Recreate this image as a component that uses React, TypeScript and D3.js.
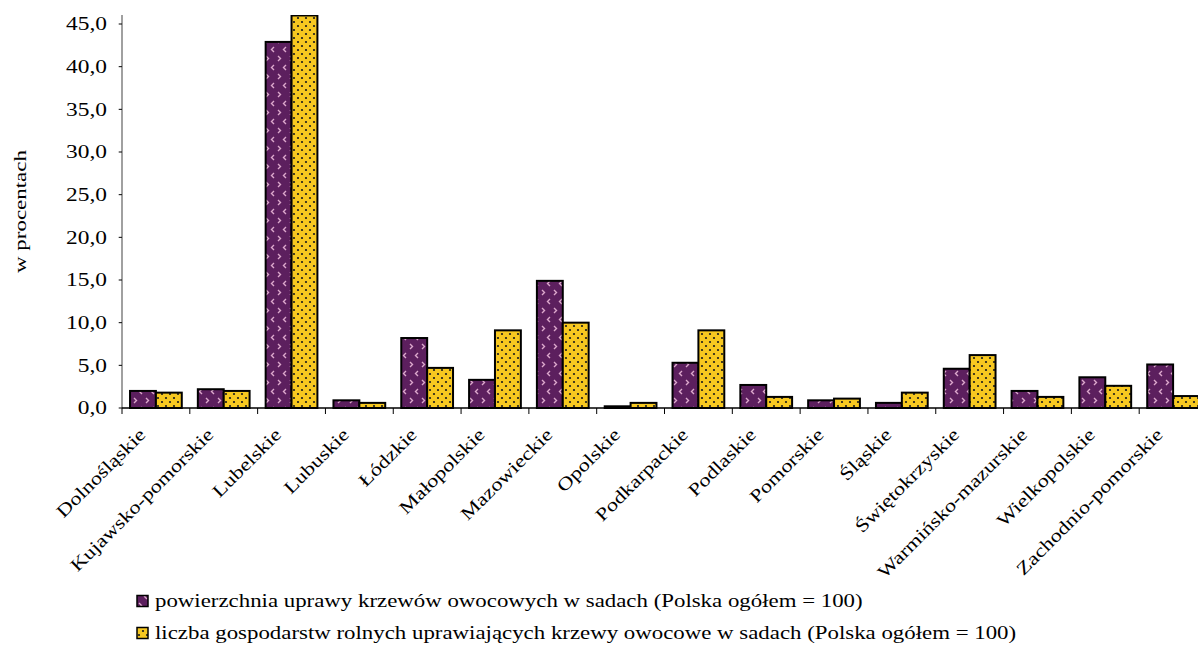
import React from 'react';
import * as d3 from 'd3';

const regions = [
  'Dolnośląskie',
  'Kujawsko-pomorskie',
  'Lubelskie',
  'Lubuskie',
  'Łódzkie',
  'Małopolskie',
  'Mazowieckie',
  'Opolskie',
  'Podkarpackie',
  'Podlaskie',
  'Pomorskie',
  'Śląskie',
  'Świętokrzyskie',
  'Warmińsko-mazurskie',
  'Wielkopolskie',
  'Zachodnio-pomorskie',
];

const area = [2.0, 2.2, 42.9, 0.9, 8.2, 3.3, 14.9, 0.2, 5.3, 2.7, 0.9, 0.6, 4.6, 2.0, 3.6, 5.1];
const farms = [1.8, 2.0, 46.0, 0.6, 4.7, 9.1, 10.0, 0.6, 9.1, 1.3, 1.1, 1.8, 6.2, 1.3, 2.6, 1.4];

const yTicks = [0, 5, 10, 15, 20, 25, 30, 35, 40, 45];

const seriesNames = [
  'powierzchnia uprawy krzewów owocowych w sadach (Polska ogółem = 100)',
  'liczba gospodarstw rolnych uprawiających krzewy owocowe w sadach (Polska ogółem = 100)',
];

const W = 1198;
const H = 646;
const font = '"Liberation Serif", "Times New Roman", serif';

const App: React.FC = () => {
  const x = d3.scaleBand<string>().domain(regions).range([122, 1207]);
  const inner = d3.scaleBand<string>().domain(['a', 'b']).range([0, x.bandwidth()]).paddingOuter(0.31);
  const y = d3.scaleLinear().domain([0, 45]).range([408, 24]);
  const yTop = y(46.05);
  const fmt = (v: number) => v.toFixed(1).replace('.', ',');

  const series = [
    { key: 'a', values: area, fill: 'url(#patPurple)' },
    { key: 'b', values: farms, fill: 'url(#patYellow)' },
  ];

  return (
    <svg width={W} height={H} style={{ position: 'absolute', left: 0, top: 0, background: '#fff' }}>
      <defs>
        <pattern id="patPurple" patternUnits="userSpaceOnUse" width="12" height="18">
          <rect width="12" height="18" fill="#5c1f5e" />
          <path d="M2 2 L4.5 4.5 L2 7" stroke="#dca8cc" strokeWidth="1.4" fill="none" />
          <path d="M10 11 L7.5 13.5 L10 16" stroke="#dca8cc" strokeWidth="1.4" fill="none" />
        </pattern>
        <pattern id="patYellow" patternUnits="userSpaceOnUse" width="8" height="8">
          <rect width="8" height="8" fill="#f7c820" />
          <circle cx="2" cy="2" r="1.1" fill="#1a1a1a" />
          <circle cx="6" cy="6" r="1.1" fill="#1a1a1a" />
        </pattern>
        <clipPath id="plotClip">
          <rect x={0} y={yTop} width={W + 20} height={H} />
        </clipPath>
      </defs>

      {/* bars */}
      <g clipPath="url(#plotClip)">
        {series.map((s) =>
          s.values.map((v, i) => {
            const bx = (x(regions[i]) ?? 0) + (inner(s.key) ?? 0);
            const by = y(v);
            return (
              <rect
                key={s.key + i}
                x={bx}
                y={by}
                width={inner.bandwidth()}
                height={y(0) - by}
                fill={s.fill}
                stroke="#000"
                strokeWidth={2}
              />
            );
          })
        )}
      </g>

      {/* y axis */}
      <line x1={122} x2={122} y1={yTop} y2={y(0)} stroke="#808080" strokeWidth={1.5} />
      {yTicks.map((t) => (
        <g key={t} transform={`translate(107,${y(t)}) scale(1.3,1)`}>
          <line x1={9} x2={11.5} stroke="#000" strokeWidth={1} />
          <text dy="0.35em" textAnchor="end" fontFamily={font} fontSize={18} fill="#000">
            {fmt(t)}
          </text>
        </g>
      ))}
      <text
        transform={`translate(26,${(yTop + y(0)) / 2}) rotate(-90) scale(1.35,1)`}
        textAnchor="middle"
        fontFamily={font}
        fontSize={17}
        fill="#000"
      >
        w procentach
      </text>

      {/* x axis */}
      <line x1={122} x2={W} y1={y(0)} y2={y(0)} stroke="#000" strokeWidth={1.5} />
      {regions.map((r) => (
        <line
          key={'t' + r}
          x1={x(r) ?? 0}
          x2={x(r) ?? 0}
          y1={y(0)}
          y2={y(0) + 6}
          stroke="#000"
          strokeWidth={1}
        />
      ))}
      {regions.map((r) => {
        const cx = (x(r) ?? 0) + x.bandwidth() / 2;
        return (
          <text
            key={'l' + r}
            transform={`translate(${cx - 15},${y(0) + 22}) rotate(-45) scale(1.25,1)`}
            textAnchor="end"
            dy="0.45em"
            fontFamily={font}
            fontSize={18}
            fill="#000"
          >
            {r}
          </text>
        );
      })}

      {/* legend */}
      {seriesNames.map((n, i) => (
        <g key={n} transform={`translate(137,${601 + i * 32})`}>
          <rect x={0} y={-5.5} width={11} height={11} fill={series[i].fill} stroke="#000" strokeWidth={1.5} />
          <text
            transform="translate(18,0) scale(1.27,1)"
            dy="0.35em"
            fontFamily={font}
            fontSize={18}
            fill="#000"
          >
            {n}
          </text>
        </g>
      ))}
    </svg>
  );
};

export default App;
